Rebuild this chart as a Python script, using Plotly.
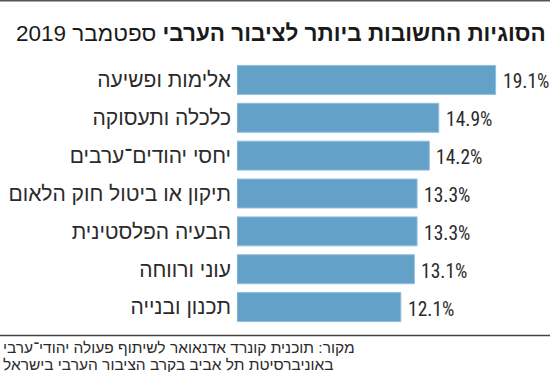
import plotly.graph_objects as go

categories = ["אלימות ופשיעה", "כלכלה ותעסוקה", "יחסי יהודים־ערבים",
              "תיקון או ביטול חוק הלאום", "הבעיה הפלסטינית", "עוני ורווחה", "תכנון ובנייה"]
values = [19.1, 14.9, 14.2, 13.3, 13.3, 13.1, 12.1]
value_labels = ["19.1%", "14.9%", "14.2%", "13.3%", "13.3%", "13.1%", "12.1%"]

title_bold = "הסוגיות החשובות ביותר לציבור הערבי"
title_rest = "ספטמבר 2019"
source_lines = ["מקור: תוכנית קונרד אדנאואר לשיתוף פעולה יהודי־ערבי",
                "באוניברסיטת תל אביב בקרב הציבור הערבי בישראל"]

W, H = 550, 372
ML, MR, MT, MB = 237, 0, 61, 46
PW, PH = W - ML - MR, H - MT - MB

def px_x(x):
    return (x - ML) / PW

def px_y(y):
    return (H - MB - y) / PH

HEB = "Liberation Sans, DejaVu Sans, sans-serif"
NUM = "Roboto Condensed, DejaVu Sans Condensed, sans-serif"

fig = go.Figure()
fig.add_trace(go.Bar(
    x=values, y=categories, orientation="h",
    marker=dict(color="#64a1c8", line=dict(color="#8fbfdc", width=1)),
    hoverinfo="skip", showlegend=False,
))

annotations = []
for c, v, t in zip(categories, values, value_labels):
    annotations.append(dict(x=v, y=c, xref="x", yref="y", text=t, showarrow=False,
                            xanchor="left", yanchor="middle", xshift=5, yshift=-2,
                            font=dict(family=NUM, size=19.5, color="#2b2b2b")))

annotations.append(dict(x=px_x(548), y=px_y(33), xref="paper", yref="paper",
                        text="<b>" + title_bold + "</b> " + title_rest, showarrow=False,
                        xanchor="right", yanchor="middle",
                        font=dict(family=HEB, size=22.5, color="#1a1a1a")))
annotations.append(dict(x=px_x(1), y=px_y(347), xref="paper", yref="paper",
                        text=source_lines[0], showarrow=False, xanchor="left", yanchor="middle",
                        font=dict(family=HEB, size=15.5, color="#2b2b2b")))
annotations.append(dict(x=px_x(1), y=px_y(364), xref="paper", yref="paper",
                        text=source_lines[1], showarrow=False, xanchor="left", yanchor="middle",
                        font=dict(family=HEB, size=15.5, color="#2b2b2b")))

shapes = [
    dict(type="line", xref="paper", yref="paper", x0=px_x(0), x1=px_x(W),
         y0=px_y(335.5), y1=px_y(335.5), line=dict(color="#444444", width=1.5)),
    dict(type="line", xref="paper", yref="paper", x0=px_x(0), x1=px_x(W),
         y0=px_y(0.8), y1=px_y(0.8), line=dict(color="#555555", width=1.6)),
]

fig.update_layout(
    width=W, height=H,
    margin=dict(l=ML, r=MR, t=MT, b=MB, pad=0),
    paper_bgcolor="white", plot_bgcolor="white",
    bargap=0.235,
    xaxis=dict(range=[0, PW / 13.54], visible=False, fixedrange=True),
    yaxis=dict(autorange="reversed", showgrid=False, zeroline=False, showline=False,
               ticks="", ticklabelstandoff=5, automargin=False,
               tickfont=dict(family=HEB, size=21, color="#2b2b2b"), fixedrange=True),
    annotations=annotations,
    shapes=shapes,
)

fig.write_html("out.html", config={"displayModeBar": False},
               post_script="document.body.style.margin='0';")
